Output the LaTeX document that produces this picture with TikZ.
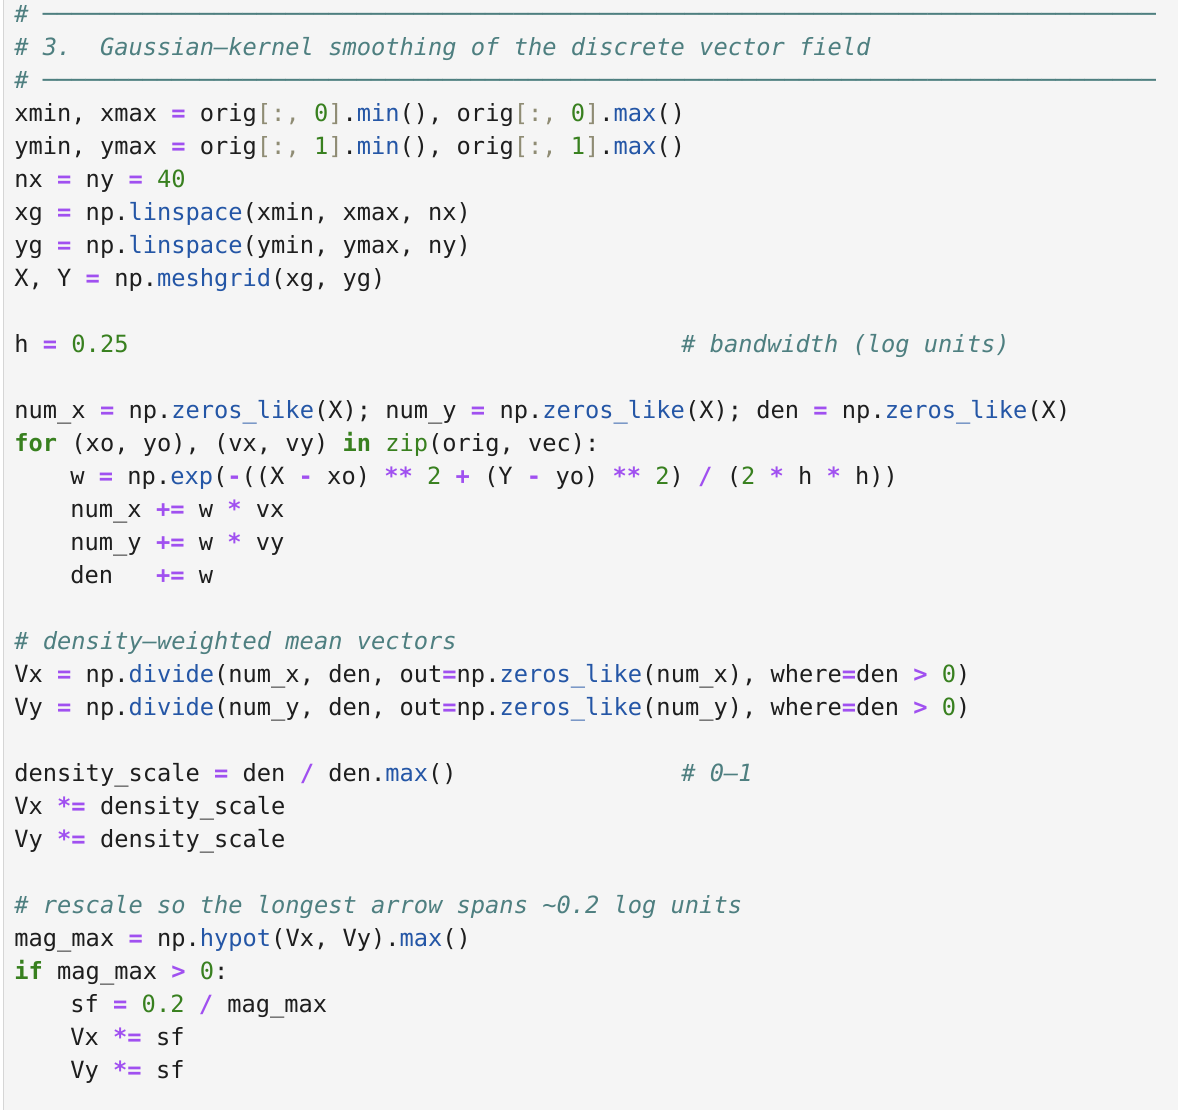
\documentclass[tikz,border=0pt]{standalone}
\usepackage{fontspec}
\setmonofont{DejaVu Sans Mono}
\usepackage{tikz}

\definecolor{codebg}{HTML}{F5F5F5}
\definecolor{codeedge}{HTML}{D6D6D6}
\definecolor{codetext}{HTML}{1E1E1E}
\definecolor{codecomment}{HTML}{4E7F80}
\definecolor{codepurple}{HTML}{A050F0}
\definecolor{codegreen}{HTML}{38801F}
\definecolor{codeblue}{HTML}{2456A6}
\definecolor{codebracket}{HTML}{8F8C74}

\newcommand{\codeop}[1]{\textcolor{codepurple}{\bfseries #1}}
\newcommand{\codenum}[1]{\textcolor{codegreen}{#1}}
\newcommand{\codekw}[1]{\textcolor{codegreen}{\bfseries #1}}
\newcommand{\codefn}[1]{\textcolor{codeblue}{#1}}
\newcommand{\codebr}[1]{\textcolor{codebracket}{#1}}
\newcommand{\rulechars}{{\bfseries ──────────────────────────────────────────────────────────────────────────────}}

\tikzset{
  codeline/.style={anchor=base west, inner sep=0pt, text=codetext,
    font=\ttfamily\fontsize{11.85}{14}\selectfont\frenchspacing},
  codecmt/.style={codeline, text=codecomment,
    font=\ttfamily\itshape\fontsize{11.85}{14}\selectfont\frenchspacing}
}

\begin{document}
\begin{tikzpicture}[x=0.5pt, y=-0.5pt]
                % Panel
                \useasboundingbox (0,0) rectangle (1178,1110);
                \fill[white] (0,0) rectangle (1178,1110);
                \fill[codebg] (4,0) rectangle (1178,1110);
                \draw[codeedge, line width=0.6pt] (3.5,0) -- (3.5,1110);

                % Header comment
                \node at (14,22) [codecmt] (rule1) {\# \rulechars};
                \node at (14,55) [codecmt] (title) {\# 3.\ \ Gaussian–kernel smoothing of the discrete vector field};
                \node at (14,88) [codecmt] (rule2) {\# \rulechars};

                % Grid
                \node at (14,121) [codeline] (xrange) {xmin, xmax \codeop{=} orig\codebr{[:,} \codenum{0}\codebr{]}.\codefn{min}(), orig\codebr{[:,} \codenum{0}\codebr{]}.\codefn{max}()};
                \node at (14,154) [codeline] (yrange) {ymin, ymax \codeop{=} orig\codebr{[:,} \codenum{1}\codebr{]}.\codefn{min}(), orig\codebr{[:,} \codenum{1}\codebr{]}.\codefn{max}()};
                \node at (14,187) [codeline] (nxny) {nx \codeop{=} ny \codeop{=} \codenum{40}};
                \node at (14,220) [codeline] (xg) {xg \codeop{=} np.\codefn{linspace}(xmin, xmax, nx)};
                \node at (14,253) [codeline] (yg) {yg \codeop{=} np.\codefn{linspace}(ymin, ymax, ny)};
                \node at (14,286) [codeline] (mesh) {X, Y \codeop{=} np.\codefn{meshgrid}(xg, yg)};

                % Bandwidth
                \node at (14,352) [codeline] (bw) {h \codeop{=} \codenum{0.25}};
                \node at (681,352) [codecmt] (bwnote) {\# bandwidth (log units)};

                % Accumulation loop
                \node at (14,418) [codeline] (init) {num\_x \codeop{=} np.\codefn{zeros\_like}(X); num\_y \codeop{=} np.\codefn{zeros\_like}(X); den \codeop{=} np.\codefn{zeros\_like}(X)};
                \node at (14,451) [codeline] (loop) {\codekw{for} (xo, yo), (vx, vy) \codekw{in} \codenum{zip}(orig, vec):};
                \node at (70,484) [codeline] (weight) {w \codeop{=} np.\codefn{exp}(\codeop{-}((X \codeop{-} xo) \codeop{**} \codenum{2} \codeop{+} (Y \codeop{-} yo) \codeop{**} \codenum{2}) \codeop{/} (\codenum{2} \codeop{*} h \codeop{*} h))};
                \node at (70,517) [codeline] (accx) {num\_x \codeop{+=} w \codeop{*} vx};
                \node at (70,550) [codeline] (accy) {num\_y \codeop{+=} w \codeop{*} vy};
                \node at (70,583) [codeline] (accd) {den\ \ \ \codeop{+=} w};

                % Mean vectors
                \node at (14,649) [codecmt] (meannote) {\# density–weighted mean vectors};
                \node at (14,682) [codeline] (vx) {Vx \codeop{=} np.\codefn{divide}(num\_x, den, out\codeop{=}np.\codefn{zeros\_like}(num\_x), where\codeop{=}den \codeop{>} \codenum{0})};
                \node at (14,715) [codeline] (vy) {Vy \codeop{=} np.\codefn{divide}(num\_y, den, out\codeop{=}np.\codefn{zeros\_like}(num\_y), where\codeop{=}den \codeop{>} \codenum{0})};

                % Density scaling
                \node at (14,781) [codeline] (dscale) {density\_scale \codeop{=} den \codeop{/} den.\codefn{max}()};
                \node at (681,781) [codecmt] (dnote) {\# 0–1};
                \node at (14,814) [codeline] (dvx) {Vx \codeop{*=} density\_scale};
                \node at (14,847) [codeline] (dvy) {Vy \codeop{*=} density\_scale};

                % Rescale
                \node at (14,913) [codecmt] (rescnote) {\# rescale so the longest arrow spans \textasciitilde0.2 log units};
                \node at (14,946) [codeline] (magmax) {mag\_max \codeop{=} np.\codefn{hypot}(Vx, Vy).\codefn{max}()};
                \node at (14,979) [codeline] (ifmag) {\codekw{if} mag\_max \codeop{>} \codenum{0}:};
                \node at (70,1012) [codeline] (sf) {sf \codeop{=} \codenum{0.2} \codeop{/} mag\_max};
                \node at (70,1045) [codeline] (sfx) {Vx \codeop{*=} sf};
                \node at (70,1078) [codeline] (sfy) {Vy \codeop{*=} sf};
\end{tikzpicture}
\end{document}
